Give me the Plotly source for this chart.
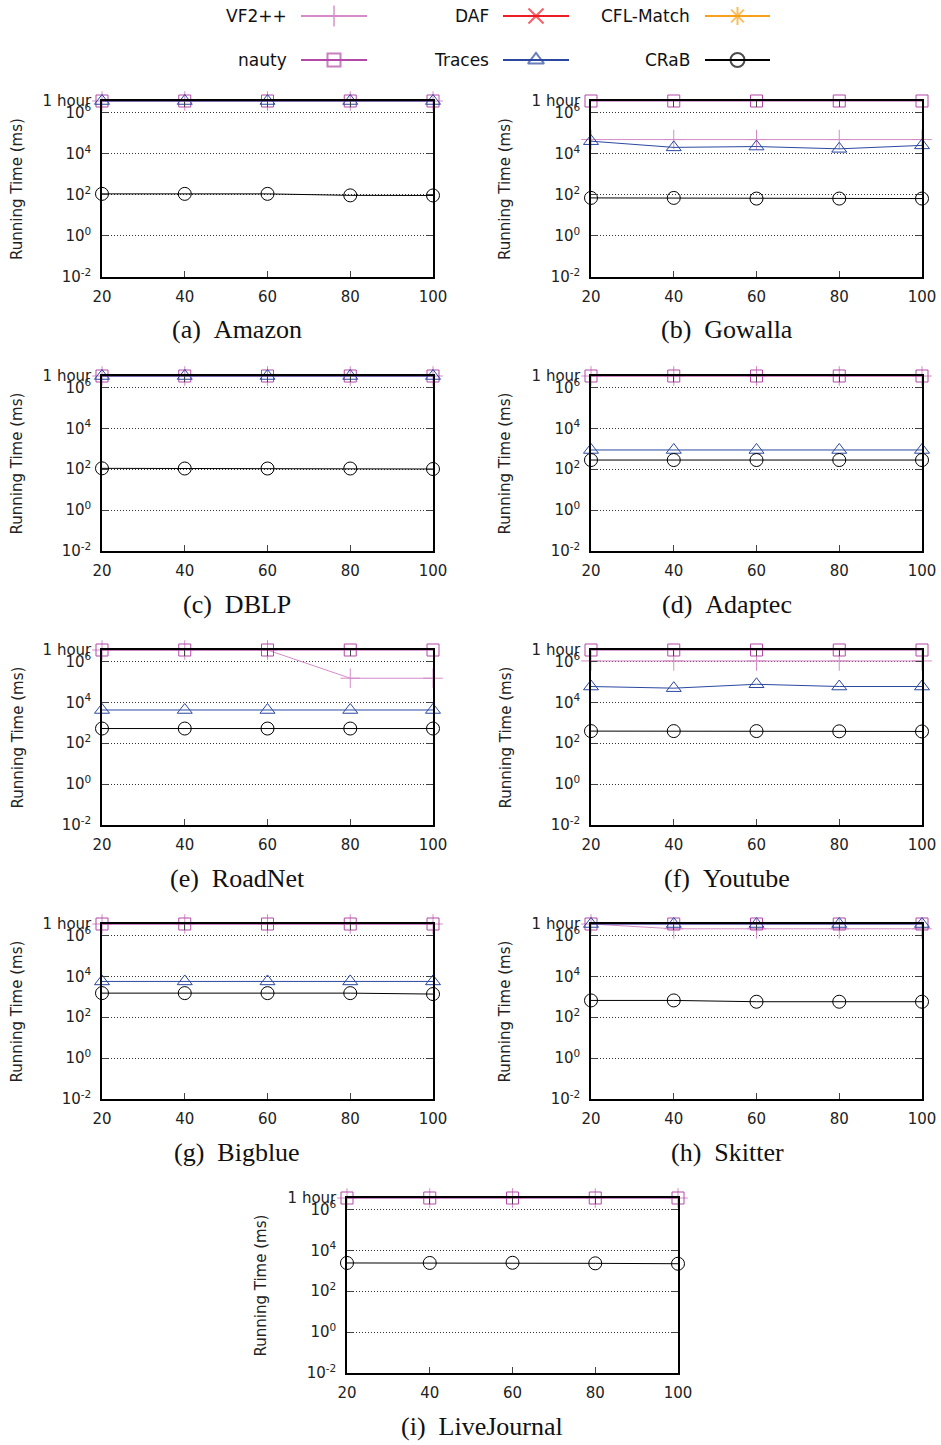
import math
import plotly.graph_objects as go

W, H = 941, 1445
HOUR = 3.6e6  # 1 hour in ms (timeout)

x_vals = [20, 40, 60, 80, 100]
datasets = ["Amazon", "Gowalla", "DBLP", "Adaptec", "RoadNet", "Youtube", "Bigblue", "Skitter", "LiveJournal"]
letters = ["a", "b", "c", "d", "e", "f", "g", "h", "i"]

vf2pp = {
    "Amazon": [HOUR] * 5,
    "Gowalla": [48000, 48000, 48000, 48000, 48000],
    "DBLP": [HOUR] * 5,
    "Adaptec": [HOUR] * 5,
    "RoadNet": [HOUR, HOUR, HOUR, 150000, 150000],
    "Youtube": [1.05e6, 1.05e6, 1.05e6, 1.05e6, 1.05e6],
    "Bigblue": [HOUR] * 5,
    "Skitter": [HOUR, 2.1e6, 2.1e6, 2.1e6, 2.1e6],
    "LiveJournal": [HOUR] * 5,
}
daf = {d: [None] * 5 for d in datasets}
cfl = {d: [None] * 5 for d in datasets}
nauty = {d: [HOUR] * 5 for d in datasets}
traces = {
    "Amazon": [HOUR] * 5,
    "Gowalla": [40000, 20000, 22000, 17000, 25000],
    "DBLP": [HOUR] * 5,
    "Adaptec": [870, 870, 870, 870, 870],
    "RoadNet": [4200, 4200, 4200, 4200, 4200],
    "Youtube": [59000, 49000, 76000, 59000, 59000],
    "Bigblue": [5600, 5600, 5600, 5600, 5600],
    "Skitter": [HOUR] * 5,
    "LiveJournal": [None] * 5,
}
crab = {
    "Amazon": [110, 110, 110, 93, 92],
    "Gowalla": [70, 70, 65, 65, 65],
    "DBLP": [110, 108, 108, 108, 102],
    "Adaptec": [280, 280, 280, 280, 280],
    "RoadNet": [520, 520, 520, 520, 520],
    "Youtube": [390, 390, 390, 380, 375],
    "Bigblue": [1500, 1500, 1500, 1500, 1350],
    "Skitter": [660, 660, 570, 570, 570],
    "LiveJournal": [2400, 2400, 2450, 2300, 2200],
}

y_tickvals = [1e-2, 1, 1e2, 1e4, 1e6, HOUR]
y_ticktext = ["10<sup>-2</sup>", "10<sup>0</sup>", "10<sup>2</sup>", "10<sup>4</sup>", "10<sup>6</sup>", "1 hour"]

# series styles: name, data, color, symbol, size
series = [
    ("VF2++", vf2pp, "#d58bc8", "cross-thin-open", 14),
    ("DAF", daf, "#ee1c25", "x-thin-open", 14),
    ("CFL-Match", cfl, "#f7a11a", "asterisk-open", 14),
    ("nauty", nauty, "#b348a6", "square-open", 12),
    ("Traces", traces, "#2a48a0", "triangle-up-open", 13),
    ("CRaB", crab, "#000000", "circle-open", 13),
]

# layout geometry (pixels)
col_x = {"L": (102, 433), "R": (591, 922), "C": (347, 678)}
row_y = [(101, 277), (376, 551), (650, 825), (924, 1099), (1198, 1373)]
placement = [("L", 0), ("R", 0), ("L", 1), ("R", 1), ("L", 2), ("R", 2), ("L", 3), ("R", 3), ("C", 4)]

fig = go.Figure()
FONT = "DejaVu Sans"
annotations = []
ytop = math.log10(HOUR) + 1e-6

for i, ds in enumerate(datasets):
    col, row = placement[i]
    x0, x1 = col_x[col]
    yt, yb = row_y[row]
    xa = "x" if i == 0 else f"x{i+1}"
    ya = "y" if i == 0 else f"y{i+1}"
    xl = "xaxis" if i == 0 else f"xaxis{i+1}"
    yl = "yaxis" if i == 0 else f"yaxis{i+1}"
    for name, data, color, sym, size in series:
        fig.add_trace(go.Scatter(
            x=x_vals, y=data[ds], mode="lines+markers", name=name,
            xaxis=xa, yaxis=ya, showlegend=False, cliponaxis=False,
            line=dict(color=color, width=1),
            marker=dict(symbol=sym, size=size, color=color, line=dict(color=color, width=1)),
        ))
    fig.layout[xl] = dict(
        domain=[x0 / W, x1 / W], anchor=ya, range=[20, 100],
        tickvals=x_vals, ticks="inside", ticklen=6, mirror="ticks",
        showline=True, linecolor="black", linewidth=1.5, showgrid=False,
        zeroline=False, tickfont=dict(family=FONT, size=15, color="#222"),
        ticklabelstandoff=5, fixedrange=True, automargin=False,
    )
    fig.layout[yl] = dict(
        domain=[1 - yb / H, 1 - yt / H], anchor=xa, type="log",
        range=[-2, ytop], tickvals=y_tickvals, ticktext=y_ticktext,
        ticks="inside", ticklen=6, mirror="ticks",
        showline=True, linecolor="black", linewidth=1.5,
        showgrid=True, gridcolor="#333", griddash="1px,2px", gridwidth=1,
        zeroline=False, tickfont=dict(family=FONT, size=15, color="#222"),
        ticklabelstandoff=6, fixedrange=True, automargin=False,
    )
    # y title
    tx = {"L": 17, "R": 505, "C": 260}[col]
    annotations.append(dict(
        text="Running Time (ms)", x=tx / W, y=1 - (yt + yb) / 2 / H, xref="paper", yref="paper",
        textangle=-90, showarrow=False, font=dict(family=FONT, size=15, color="#222"),
        xanchor="center", yanchor="middle",
    ))
    # caption
    cx = {"L": 237, "R": 727, "C": 482}[col]
    annotations.append(dict(
        text=f"({letters[i]})&nbsp;&nbsp;{ds}", x=cx / W, y=1 - (yb + 53) / H,
        xref="paper", yref="paper", showarrow=False,
        font=dict(family="Liberation Serif", size=26, color="#111"),
        xanchor="center", yanchor="middle",
    ))

# manual legend (text on the left of sample), drawn in an overlay axis in pixel units
legend_items = [
    ("VF2++", 0, 0), ("DAF", 1, 0), ("CFL-Match", 2, 0),
    ("nauty", 0, 1), ("Traces", 1, 1), ("CRaB", 2, 1),
]
leg_text_right = [289, 491, 692]
leg_line = [(301, 367), (503, 569), (705, 770)]
leg_rows = [16, 60]
style = {s[0]: s for s in series}
li = len(datasets) + 1
for name, c, r in legend_items:
    _, _, color, sym, size = style[name]
    lx0, lx1 = leg_line[c]
    yy = leg_rows[r]
    fig.add_trace(go.Scatter(
        x=[lx0, (lx0 + lx1) / 2, lx1], y=[yy, yy, yy], mode="lines+markers",
        xaxis=f"x{li}", yaxis=f"y{li}", showlegend=False, cliponaxis=False,
        line=dict(color=color, width=2),
        marker=dict(symbol=sym, size=[0, size + 1, 0], color=color, line=dict(color=color, width=2)),
        hoverinfo="skip",
    ))
    annotations.append(dict(
        text=name, x=leg_text_right[c], y=yy, xref=f"x{li}", yref=f"y{li}",
        showarrow=False, xanchor="right", yanchor="middle",
        font=dict(family=FONT, size=17, color="#111"),
    ))
fig.layout[f"xaxis{li}"] = dict(domain=[0, 1], range=[0, W], visible=False, fixedrange=True, automargin=False)
fig.layout[f"yaxis{li}"] = dict(domain=[1 - 80 / H, 1], range=[80, 0], visible=False, fixedrange=True, automargin=False)

fig.update_layout(
    width=W, height=H, margin=dict(l=0, r=0, t=0, b=0, autoexpand=False),
    paper_bgcolor="white", plot_bgcolor="white",
    annotations=annotations, showlegend=False,
)

fig.write_html(
    "out.html",
    config={"displayModeBar": False},
    post_script="document.body.style.margin='0';document.body.style.overflow='hidden';",
)
